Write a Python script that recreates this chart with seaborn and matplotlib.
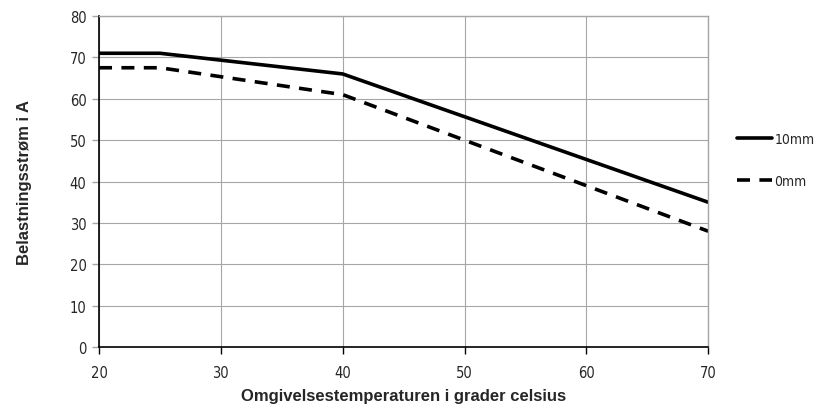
import pandas as pd
import seaborn as sns
import matplotlib.pyplot as plt

# Data
temps = [20, 25, 40, 70]
current_10mm = [71, 71, 66, 35]
current_0mm = [67.5, 67.5, 61, 28]
series_names = ["10mm", "0mm"]


def main():
    df = pd.DataFrame({
        "temp": temps * 2,
        "current": current_10mm + current_0mm,
        "series": [series_names[0]] * len(temps) + [series_names[1]] * len(temps),
    })

    sns.set_theme(style="white")
    plt.rcParams["font.family"] = ["DejaVu Sans"]
    plt.rcParams["font.stretch"] = "condensed"

    fig = plt.figure(figsize=(8.15, 4.1), dpi=100)
    ax = fig.add_axes([0.1215, 0.151, 0.7475, 0.8075])

    sns.lineplot(
        data=df, x="temp", y="current", style="series", color="black",
        dashes={"10mm": "", "0mm": (3.6, 2.6)}, linewidth=2.6, ax=ax, legend=False,
    )

    ax.set_xlim(20, 70)
    ax.set_ylim(0, 80)
    ax.set_xticks(range(20, 71, 10))
    ax.set_yticks(range(0, 81, 10))
    ax.grid(True, color="#a6a6a6", linewidth=0.8)
    ax.set_axisbelow(True)

    for side in ["top", "right"]:
        ax.spines[side].set_color("#a6a6a6")
        ax.spines[side].set_linewidth(1.0)
    for side in ["left", "bottom"]:
        ax.spines[side].set_color("black")
        ax.spines[side].set_linewidth(1.2)

    ax.tick_params(axis="x", direction="out", length=5, width=1, color="black",
                   bottom=True, pad=8, labelsize=10.5, labelcolor="#262626")
    ax.tick_params(axis="y", direction="out", length=5, width=1, color="#a6a6a6",
                   left=True, pad=4, labelsize=10.5, labelcolor="#262626")

    ax.set_xlabel("Omgivelsestemperaturen i grader celsius", fontsize=12,
                  fontweight="bold", family="Liberation Sans", labelpad=6,
                  color="#262626")
    ax.set_ylabel("Belastningsstrøm i A", fontsize=12, fontweight="bold",
                  family="Liberation Sans", labelpad=27, color="#262626")

    handles = ax.get_lines()[:2]
    ax.legend(handles, series_names, loc="center left",
              bbox_to_anchor=(1.047, 0.565), frameon=False,
              borderpad=0, borderaxespad=0,
              handlelength=2.5, handletextpad=0.2, labelspacing=2.0,
              fontsize=10, labelcolor="#262626")

    fig.savefig("out.png", dpi=100)


if __name__ == "__main__":
    main()
